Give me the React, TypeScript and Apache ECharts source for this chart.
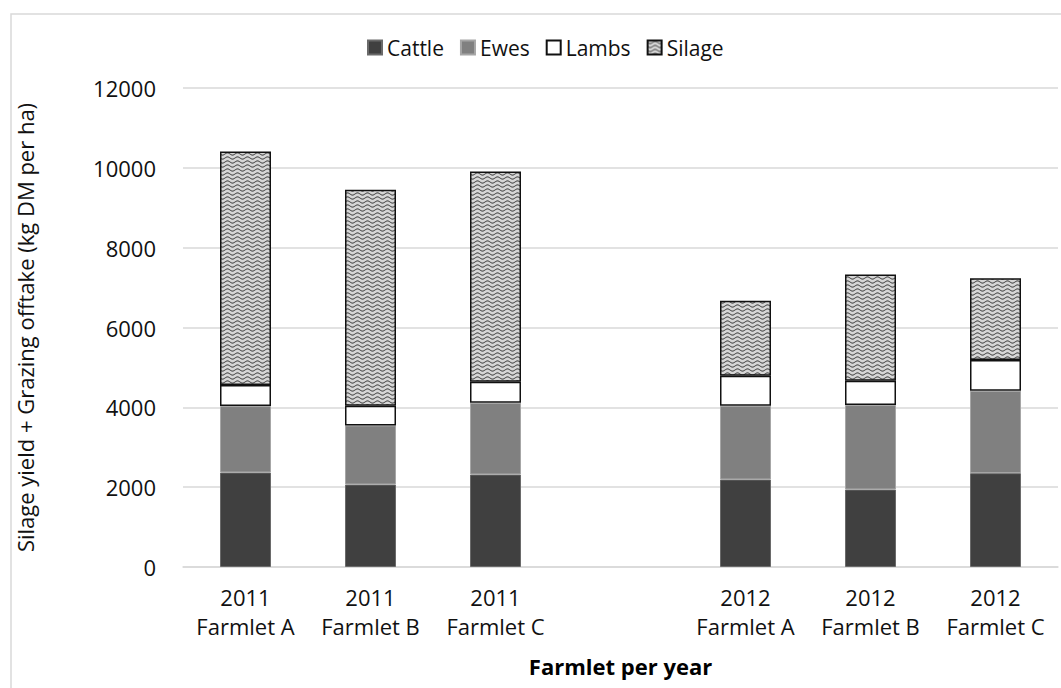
import React, { useEffect, useRef } from "react";
import * as echarts from "echarts";

const categories = [
  "2011\nFarmlet A",
  "2011\nFarmlet B",
  "2011\nFarmlet C",
  "",
  "2012\nFarmlet A",
  "2012\nFarmlet B",
  "2012\nFarmlet C",
];
const cattle = [2368, 2067, 2318, null, 2193, 1942, 2351];
const ewes = [1664, 1480, 1796, null, 1846, 2115, 2064];
const lambs = [528, 492, 527, null, 753, 609, 771];
const silage = [5851, 5412, 5269, null, 1881, 2660, 2049];
const yTicks = { min: 0, max: 12000, interval: 2000 };

function makePattern() {
  const w = 10;
  const h = 4;
  const c = document.createElement("canvas");
  c.width = w;
  c.height = h;
  const ctx = c.getContext("2d")!;
  ctx.fillStyle = "#d6d6d6";
  ctx.fillRect(0, 0, w, h);
  ctx.strokeStyle = "#262626";
  ctx.lineWidth = 1;
  ctx.beginPath();
  for (let x = 0; x <= w; x += 0.5) {
    const y = 2 + 1.1 * Math.sin((x / w) * Math.PI * 2);
    if (x === 0) ctx.moveTo(x, y);
    else ctx.lineTo(x, y);
  }
  ctx.stroke();
  return { image: c, repeat: "repeat", imageWidth: w, imageHeight: h } as any;
}

export default function App() {
  const ref = useRef<HTMLDivElement>(null);
  useEffect(() => {
    if (!ref.current) return;
    const chart = echarts.init(ref.current, null, { renderer: "svg" });
    const font = "'Open Sans', 'Noto Sans', sans-serif";
    const pattern = makePattern();
    const barW = 51;
    chart.setOption({
      animation: false,
      textStyle: { fontFamily: font, color: "#111" },
      graphic: [
        {
          type: "rect",
          silent: true,
          shape: { x: 11, y: 14, width: 1100, height: 720 },
          style: { fill: "none", stroke: "#d9d9d9", lineWidth: 1.5 },
        },
      ],
      legend: {
        top: 32,
        left: 362,
        itemWidth: 14,
        itemHeight: 14,
        itemGap: 16,
        icon: "rect",
        textStyle: { fontFamily: font, fontSize: 21, color: "#111" },
        data: ["Cattle", "Ewes", "Lambs", "Silage"],
      },
      grid: { left: 183, right: 3, top: 88, bottom: 121, containLabel: false },
      xAxis: {
        type: "category",
        data: categories,
        name: "Farmlet per year",
        nameLocation: "middle",
        nameGap: 88,
        nameTextStyle: { fontFamily: font, fontSize: 22, fontWeight: "bold", color: "#000" },
        axisLine: { lineStyle: { color: "#d9d9d9", width: 1.5 } },
        axisTick: { show: false },
        axisLabel: {
          fontFamily: font,
          fontSize: 22,
          color: "#111",
          lineHeight: 29,
          margin: 15,
          interval: 0,
        },
      },
      yAxis: {
        type: "value",
        min: yTicks.min,
        max: yTicks.max,
        interval: yTicks.interval,
        name: "Silage yield + Grazing offtake (kg DM per ha)",
        nameLocation: "middle",
        nameGap: 147,
        nameTextStyle: { fontFamily: font, fontSize: 22, color: "#111" },
        axisLine: { show: false },
        axisTick: { show: false },
        splitLine: { lineStyle: { color: "#d9d9d9", width: 1.5 } },
        axisLabel: {
          fontFamily: font,
          fontSize: 22,
          color: "#111",
          margin: 27,
          formatter: (v: number) => String(v),
        },
      },
      series: [
        {
          name: "Cattle",
          type: "bar",
          stack: "t",
          barWidth: barW,
          data: cattle,
          itemStyle: { color: "#404040", borderColor: "#6a6a6a", borderWidth: 1 },
        },
        {
          name: "Ewes",
          type: "bar",
          stack: "t",
          barWidth: barW,
          data: ewes,
          itemStyle: { color: "#808080", borderColor: "#a6a6a6", borderWidth: 1 },
        },
        {
          name: "Lambs",
          type: "bar",
          stack: "t",
          barWidth: barW,
          data: lambs,
          itemStyle: { color: "#ffffff", borderColor: "#111", borderWidth: 1.5 },
        },
        {
          name: "Silage",
          type: "bar",
          stack: "t",
          barWidth: barW,
          data: silage,
          itemStyle: { color: pattern, borderColor: "#111", borderWidth: 1.5 },
        },
      ],
    });
    return () => chart.dispose();
  }, []);
  return (
    <div
      ref={ref}
      style={{ position: "absolute", left: 0, top: 0, width: 1061, height: 688 }}
    />
  );
}
